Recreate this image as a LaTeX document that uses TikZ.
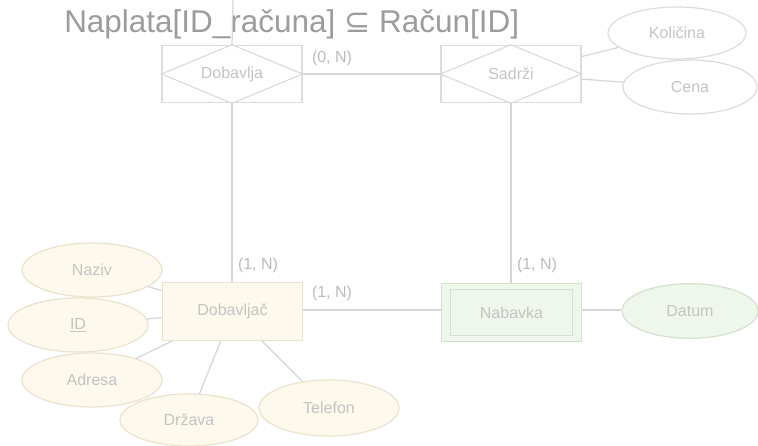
\documentclass[tikz,border=0pt]{standalone}
\usepackage{fontspec}
\setmainfont{Liberation Sans}
\newfontfamily\symfont{DejaVu Sans}
\usetikzlibrary{shapes.geometric}
\definecolor{lncol}{HTML}{D6D6D6}
\definecolor{txtcol}{HTML}{C4C4C4}
\definecolor{lblcol}{HTML}{BBBBBB}
\definecolor{titlecol}{HTML}{9C9C9C}
\definecolor{yfill}{HTML}{FDF9ED}
\definecolor{ydraw}{HTML}{EAE2CC}
\definecolor{gfill}{HTML}{EFF6EB}
\definecolor{gdraw}{HTML}{D3E2CD}
\definecolor{wdraw}{HTML}{DCDCDC}
\begin{document}
\begin{tikzpicture}[x=0.75pt,y=-0.75pt,
  conn/.style={draw=lncol, line width=0.9pt},
  relbox/.style={rectangle, draw=wdraw, line width=0.9pt, fill=white, inner sep=0pt, minimum width=105pt, minimum height=43pt, text=txtcol, font=\fontsize{12}{14}\selectfont},
  entbox/.style={rectangle, draw=ydraw, line width=0.9pt, fill=yfill, inner sep=0pt, minimum width=105.5pt, minimum height=43pt, text=txtcol, font=\fontsize{12}{14}\selectfont},
  weakbox/.style={rectangle, draw=gdraw, line width=0.9pt, fill=gfill, inner sep=0pt, minimum width=105.5pt, minimum height=44pt, text=txtcol, font=\fontsize{12}{14}\selectfont},
  attr/.style={ellipse, draw=ydraw, line width=0.9pt, fill=yfill, inner sep=0pt, minimum width=105pt, minimum height=40.5pt, text=txtcol, font=\fontsize{12}{14}\selectfont},
  gattr/.style={attr, draw=gdraw, fill=gfill},
  wattr/.style={attr, draw=wdraw, fill=white},
  card/.style={text=lblcol, inner sep=0pt, font=\fontsize{12}{14}\selectfont}
]
\useasboundingbox (0,0) rectangle (758,446);
\fill[white] (0,0) rectangle (758,446);

% title
\node[anchor=base west, inner sep=0pt, text=titlecol, font=\fontsize{23.6}{28}\selectfont] (title) at (64,32.5) {Naplata[ID\_računa] {\symfont ⊆} Račun[ID]};

\coordinate (topend) at (233,0);

% relationship boxes
\node[relbox] (dobavlja) at (232,74) {};
\draw[draw=wdraw, line width=0.9pt] (dobavlja.west) -- (dobavlja.north) -- (dobavlja.east) -- (dobavlja.south) -- cycle;
\node[text=txtcol, font=\fontsize{12}{14}\selectfont] (dobavljatxt) at (dobavlja) {Dobavlja};

\node[relbox] (sadrzi) at (511,74) {};
\draw[draw=wdraw, line width=0.9pt] (sadrzi.west) -- (sadrzi.north) -- (sadrzi.east) -- (sadrzi.south) -- cycle;
\node[text=txtcol, font=\fontsize{12}{14}\selectfont] (sadrzitxt) at (sadrzi) {Sadrži};

% entities
\node[entbox] (dobavljac) at (232.5,311.5) {Dobavljač};
\node[weakbox] (nabavka) at (511.5,312.5) {};
\node[rectangle, draw=gdraw, line width=0.9pt, minimum width=92pt, minimum height=34pt, inner sep=0pt, text=txtcol, font=\fontsize{12}{14}\selectfont] (nabavkain) at (511.5,312.5) {Nabavka};

% attributes
\node[attr] (naziv) at (92,270) {Naziv};
\node[attr] (id) at (78,325) {\underline{ID}};
\node[attr] (adresa) at (92,380) {Adresa};
\node[attr, minimum width=103.5pt, minimum height=39pt] (drzava) at (189,420) {Država};
\node[attr, minimum height=42pt] (telefon) at (329,408) {Telefon};
\node[gattr, minimum width=102pt, minimum height=41pt] (datum) at (690,311) {Datum};
\node[wattr, minimum width=103.5pt, minimum height=39pt] (kolicina) at (677,33) {Količina};
\node[wattr, minimum width=100.5pt, minimum height=40.5pt] (cena) at (690,87) {Cena};

% connectors
\draw[conn] (topend) -- (dobavlja.north);
\draw[conn] (dobavlja.east) -- (sadrzi.west);
\draw[conn] (dobavlja.south) -- (dobavlja.south |- dobavljac.north);
\draw[conn] (sadrzi.south) -- (sadrzi.south |- nabavka.north);
\draw[conn] (dobavljac.east |- 0,310) -- (nabavka.west |- 0,310);
\draw[conn] (nabavka.east |- 0,310) -- (datum.west |- 0,310);
\draw[conn] (naziv) -- (dobavljac);
\draw[conn] (id) -- (dobavljac);
\draw[conn] (adresa) -- (dobavljac);
\draw[conn] (drzava) -- (dobavljac);
\draw[conn] (telefon) -- (dobavljac);
\draw[conn] (kolicina) -- (sadrzi);
\draw[conn] (cena) -- (sadrzi);

% cardinalities
\node[card] (c1) at (332,58) {(0, N)};
\node[card] (c2) at (258,265) {(1, N)};
\node[card] (c3) at (332,293) {(1, N)};
\node[card] (c4) at (537,265) {(1, N)};
\end{tikzpicture}
\end{document}
